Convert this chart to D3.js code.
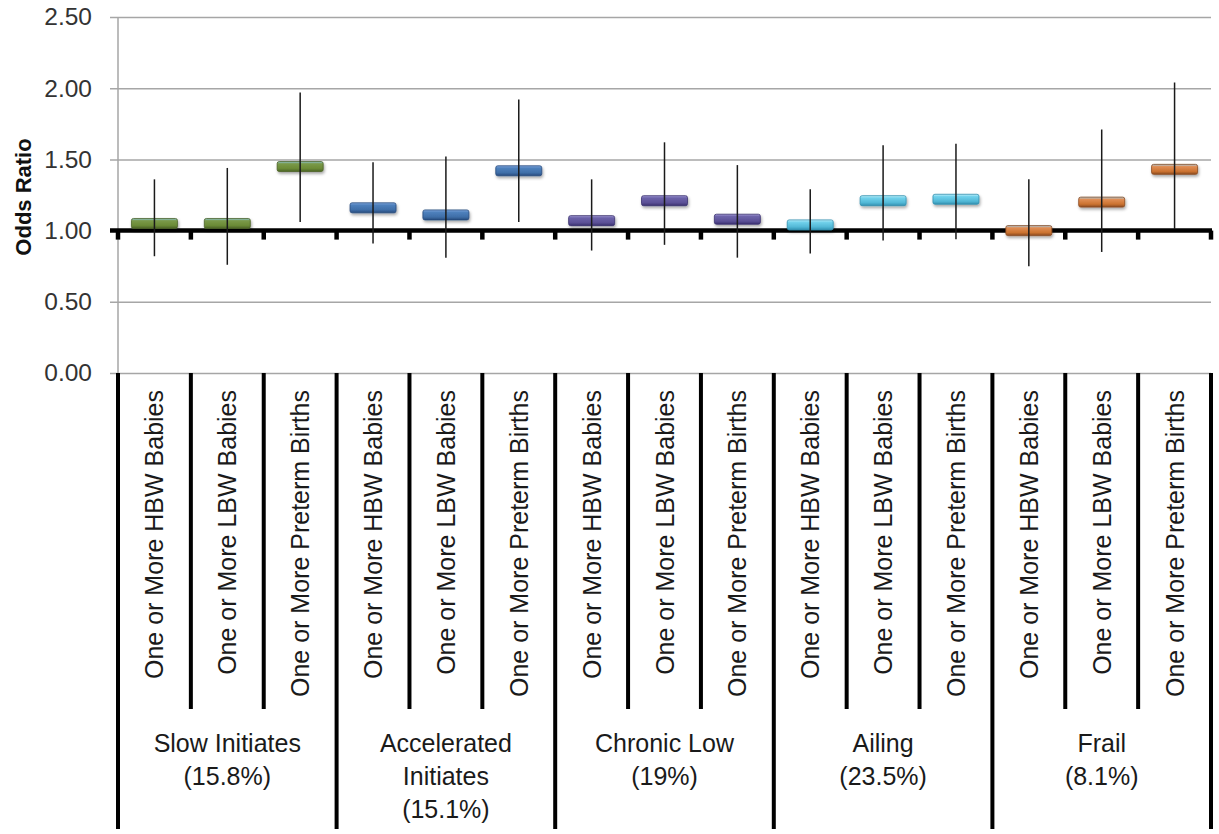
<!DOCTYPE html>
<html>
<head>
<meta charset="utf-8">
<script src="https://cdn.jsdelivr.net/npm/d3@7"></script>
<style>
  html, body { margin: 0; padding: 0; background: #fff; }
  svg { display: block; font-family: "Liberation Sans", Arial, sans-serif; }
</style>
</head>
<body>
<svg id="chart" width="1219" height="834"></svg>
<script>
// ---- data ----
const groupNames = [
  ["Slow Initiates", "(15.8%)"],
  ["Accelerated", "Initiates", "(15.1%)"],
  ["Chronic Low", "(19%)"],
  ["Ailing", "(23.5%)"],
  ["Frail", "(8.1%)"]
];
const outcomes = ["One or More HBW Babies", "One or More LBW Babies", "One or More Preterm Births"];
const oddsRatio = [1.05, 1.05, 1.45, 1.16, 1.11, 1.42, 1.07, 1.21, 1.08, 1.04, 1.21, 1.22, 1.00, 1.20, 1.43];
const ciLower   = [0.82, 0.76, 1.06, 0.91, 0.81, 1.06, 0.86, 0.90, 0.81, 0.84, 0.93, 0.94, 0.75, 0.85, 1.01];
const ciUpper   = [1.36, 1.44, 1.97, 1.48, 1.52, 1.92, 1.36, 1.62, 1.46, 1.29, 1.60, 1.61, 1.36, 1.71, 2.04];
const yTicks = [0, 0.5, 1, 1.5, 2, 2.5];
const yTitle = "Odds Ratio";
const groupColors = [
  ["#8cc6d6", "#7a9a4a", "#6b8a36", "#4a6226"],
  ["#86ace0", "#4f81bd", "#3f6ea8", "#264a7c"],
  ["#a39ad6", "#6d64aa", "#5b5096", "#3b3270"],
  ["#c4f0fa", "#72d2ec", "#52b8d6", "#3290b0"],
  ["#a8cfe4", "#e08e56", "#cc7330", "#8a4a20"]
];

(function () {
// ---- build rows ----
const rows = [];
groupNames.forEach((g, gi) => outcomes.forEach((o, oi) => {
  const i = gi * outcomes.length + oi;
  rows.push({ id: "c" + i, group: gi, label: o, or: oddsRatio[i], lo: ciLower[i], hi: ciUpper[i] });
}));

const svg = d3.select("#chart");
const pLeft = 118, pRight = 1211, pTop = 17, pBottom = 373;

const x = d3.scaleBand().domain(rows.map(d => d.id)).range([pLeft, pRight]).padding(0);
const y = d3.scaleLinear().domain([0, 2.5]).range([pBottom, pTop]);
const bw = x.bandwidth();

// gradients + shadow
const defs = svg.append("defs");
groupColors.forEach((c, i) => {
  const lg = defs.append("linearGradient").attr("id", "g" + i)
    .attr("x1", 0).attr("y1", 0).attr("x2", 0).attr("y2", 1);
  [[0, c[0]], [0.22, c[1]], [0.7, c[2]], [1, c[3]]].forEach(s =>
    lg.append("stop").attr("offset", s[0]).attr("stop-color", s[1]));
});
const f = defs.append("filter").attr("id", "shadow").attr("x", "-20%").attr("y", "-50%").attr("width", "140%").attr("height", "200%");
f.append("feDropShadow").attr("dx", 1).attr("dy", 2).attr("stdDeviation", 1.5).attr("flood-color", "#000").attr("flood-opacity", 0.35);

// y axis with gridlines
const yAxis = d3.axisLeft(y).tickValues(yTicks).tickFormat(d3.format(".2f"))
  .tickSize(-(pRight - pLeft + 8)).tickPadding(18);
const ga = svg.append("g").attr("transform", `translate(${pLeft - 8},0)`).call(yAxis);
ga.select(".domain").remove();
ga.selectAll(".tick line").attr("stroke", "#a6a6a6").attr("stroke-width", 1.5);
ga.selectAll(".tick text").attr("font-size", 24.5).attr("fill", "#333")
  .attr("font-family", "'Liberation Sans', Arial, sans-serif");

// vertical axis line
svg.append("line").attr("x1", pLeft).attr("x2", pLeft).attr("y1", y(2.5)).attr("y2", y(0))
  .attr("stroke", "#a6a6a6").attr("stroke-width", 1.5);

// y title
svg.append("text").attr("transform", `translate(31,${(y(0) + y(2.5)) / 2 + 2}) rotate(-90)`)
  .attr("text-anchor", "middle").attr("font-size", 22).attr("font-weight", "bold").attr("fill", "#111")
  .text(yTitle);

// category boundaries
const bounds = d3.range(rows.length + 1).map(k => pLeft + k * bw);

// horizontal axis crossing at 1.00
svg.append("line").attr("x1", pLeft - 8).attr("x2", pRight + 1).attr("y1", y(1)).attr("y2", y(1))
  .attr("stroke", "#000").attr("stroke-width", 4.5);
svg.selectAll(".xt").data(bounds).enter().append("line")
  .attr("x1", d => d).attr("x2", d => d).attr("y1", y(1)).attr("y2", y(1) + 9)
  .attr("stroke", "#000").attr("stroke-width", 4.5);

// bottom label separators
svg.selectAll(".sep").data(bounds).enter().append("line")
  .attr("x1", d => d).attr("x2", d => d).attr("y1", pBottom)
  .attr("y2", (d, k) => k % 3 === 0 ? 829 : 709)
  .attr("stroke", "#000").attr("stroke-width", 4);

// category labels
svg.selectAll(".cl").data(rows).enter().append("text")
  .attr("transform", d => `translate(${x(d.id) + bw / 2},390) rotate(-90)`)
  .attr("text-anchor", "end").attr("dy", "0.36em")
  .attr("font-size", 25).attr("fill", "#1a1a1a").text(d => d.label);

// group labels
groupNames.forEach((lines, gi) => {
  const cx = pLeft + (gi * 3 + 1.5) * bw;
  const t = svg.append("text").attr("text-anchor", "middle").attr("font-size", 25).attr("fill", "#1a1a1a");
  lines.forEach((ln, li) => t.append("tspan").attr("x", cx).attr("y", 752 + li * 33).text(ln));
});

// markers
const mw = 46, mh = 10;
svg.selectAll(".mk").data(rows).enter().append("rect")
  .attr("x", d => x(d.id) + bw / 2 - mw / 2).attr("y", d => y(d.or) - mh / 2)
  .attr("width", mw).attr("height", mh).attr("rx", 2)
  .attr("fill", d => `url(#g${d.group})`)
  .attr("stroke", d => groupColors[d.group][3]).attr("stroke-width", 0.8)
  .attr("filter", "url(#shadow)");

// error bars
svg.selectAll(".eb").data(rows).enter().append("line")
  .attr("x1", d => x(d.id) + bw / 2).attr("x2", d => x(d.id) + bw / 2)
  .attr("y1", d => y(d.lo)).attr("y2", d => y(d.hi))
  .attr("stroke", "#1a1a1a").attr("stroke-width", 1.5);
})();
</script>
</body>
</html>
